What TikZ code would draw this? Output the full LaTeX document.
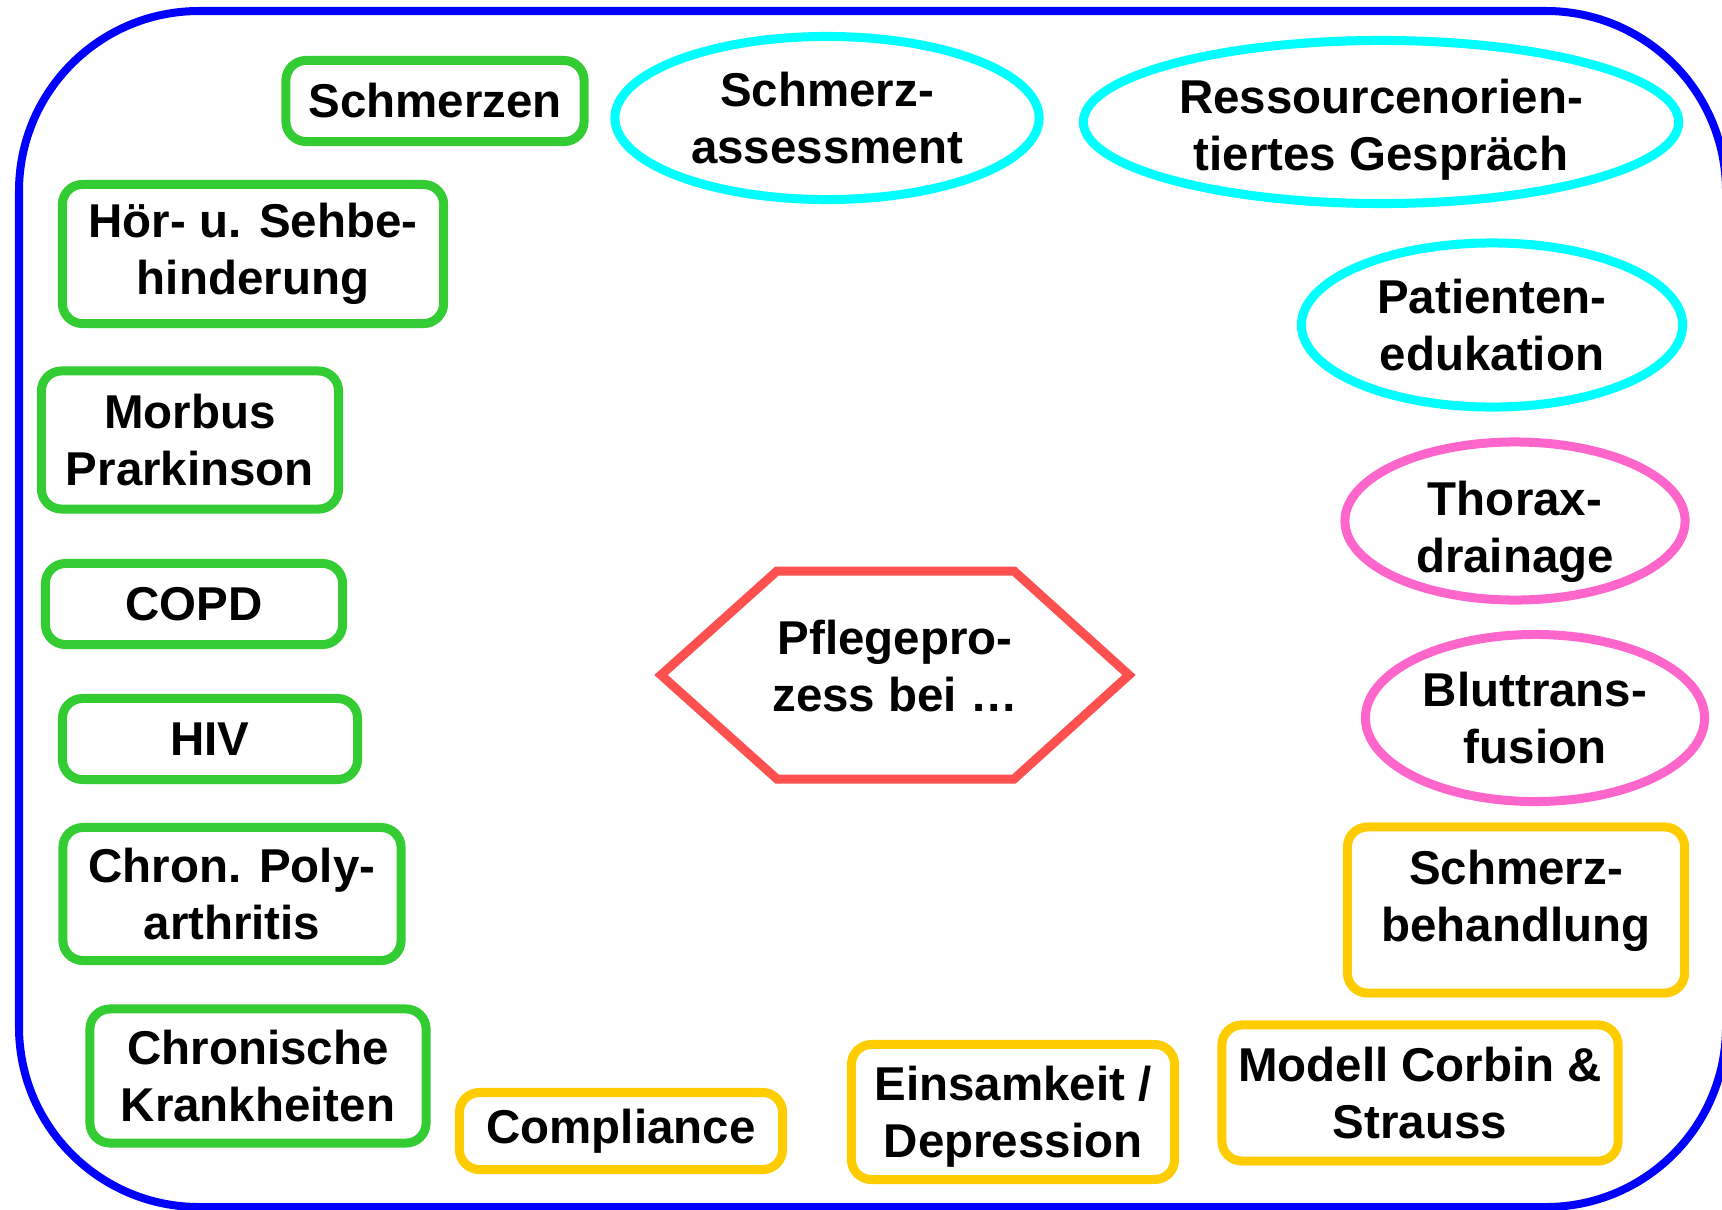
\documentclass[tikz,border=0pt]{standalone}
\usepackage{fontspec}
\setmainfont{Liberation Sans}
\usepackage{tikz}
\usetikzlibrary{shapes.geometric, positioning}

\definecolor{frameblue}{RGB}{0,0,255}
\definecolor{diseasegreen}{RGB}{51,204,51}
\definecolor{conceptcyan}{RGB}{0,255,255}
\definecolor{techpink}{RGB}{255,102,204}
\definecolor{topicyellow}{RGB}{255,204,0}
\definecolor{centerred}{RGB}{255,80,80}

\begin{document}
\begin{tikzpicture}[x=0.01cm, y=-0.01cm,
    every node/.style={font=\fontsize{13.5}{16.2}\selectfont\bfseries, align=center, inner sep=0pt},
    greenbox/.style={draw=diseasegreen, line width=0.09cm, rounded corners=0.2cm},
    yellowbox/.style={draw=topicyellow, line width=0.09cm, rounded corners=0.2cm},
    cyanoval/.style={ellipse, draw=conceptcyan, line width=0.09cm},
    pinkoval/.style={ellipse, draw=techpink, line width=0.09cm}]
    \useasboundingbox (0,0) rectangle (1722,1209);
    % frame
    \draw[frameblue, line width=0.08cm, rounded corners=1.8cm] (19,11) rectangle (1726,1207);

    % left column
    \node[greenbox, minimum width=2.98cm, minimum height=0.81cm] (schmerzen) at (435,101) {Schmerzen};
    \node[greenbox, minimum width=3.81cm, minimum height=1.39cm] (sinne) at (253,254) {Hör- u. Sehbe-\\hinderung};
    \node[greenbox, minimum width=2.97cm, minimum height=1.38cm] (parkinson) at (190,440) {Morbus\\Prarkinson};
    \node[greenbox, minimum width=2.97cm, minimum height=0.81cm] (copd) at (194,604) {COPD};
    \node[greenbox, minimum width=2.95cm, minimum height=0.81cm] (hiv) at (210,739) {HIV};
    \node[greenbox, minimum width=3.38cm, minimum height=1.33cm] (polyarthritis) at (232,894) {Chron. Poly-\\arthritis};
    \node[greenbox, minimum width=3.36cm, minimum height=1.34cm] (chronisch) at (258,1076) {Chronische\\Krankheiten};

    % bottom row
    \node[yellowbox, minimum width=3.23cm, minimum height=0.77cm] (compliance) at (621,1131) {Compliance};
    \node[yellowbox, minimum width=3.23cm, minimum height=1.35cm,
        label={[name=einsamkeittext, yshift=-0.05cm]center:{Einsamkeit /\\Depression}}] (einsamkeit) at (1013,1112) {};
    \node[yellowbox, minimum width=3.96cm, minimum height=1.36cm] (corbin) at (1420,1093) {Modell Corbin \&\\Strauss};
    \node[yellowbox, minimum width=3.37cm, minimum height=1.66cm,
        label={[name=behandlungtext, yshift=0.09cm]center:{Schmerz-\\behandlung}}] (behandlung) at (1516,910) {};

    % right column
    \node[pinkoval, minimum width=3.39cm, minimum height=1.67cm] (transfusion) at (1535,718) {Bluttrans-\\fusion};
    \node[pinkoval, minimum width=3.40cm, minimum height=1.58cm,
        label={[name=thoraxtext, yshift=-0.11cm]center:{Thorax-\\drainage}}] (thorax) at (1515,521) {};
    \node[cyanoval, minimum width=3.81cm, minimum height=1.64cm] (edukation) at (1492,325) {Patienten-\\edukation};
    \node[cyanoval, minimum width=5.95cm, minimum height=1.63cm,
        label={[name=gespraechtext, yshift=-0.08cm]center:{Ressourcenorien-\\tiertes Gespräch}}] (gespraech) at (1381,122) {};
    \node[cyanoval, minimum width=4.24cm, minimum height=1.63cm] (assessment) at (827,118) {Schmerz-\\assessment};

    % centre
    \node (pflege) at (895,666) {Pflegepro-\\zess bei …};
    \draw[centerred, line width=0.09cm] (661,675) -- (777,571) -- (1014,571) -- (1129,675)
        -- (1014,779) -- (777,779) -- cycle;
\end{tikzpicture}
\end{document}
